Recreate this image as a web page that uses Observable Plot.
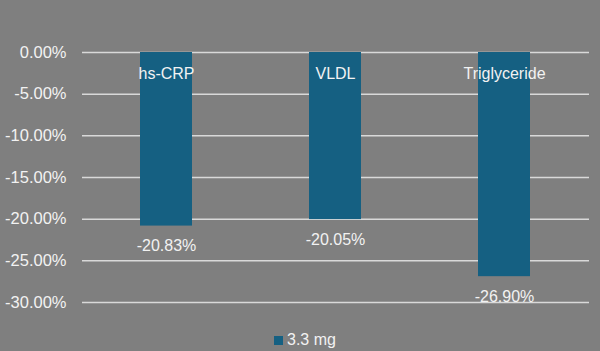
<!DOCTYPE html>
<html>
<head>
<meta charset="utf-8">
<script src="https://cdn.jsdelivr.net/npm/d3@7"></script>
<script src="https://cdn.jsdelivr.net/npm/@observablehq/plot@0.6"></script>
<style>
  html, body { margin: 0; padding: 0; background: #7f7f7f; width: 600px; height: 351px; overflow: hidden; font-family: "Liberation Sans", Arial, sans-serif; }
  #legend { position: absolute; left: 274px; top: 330px; height: 20px; display: flex; align-items: center; color: #f2f2f2; font-size: 16px; }
  #legend span.sw { display: inline-block; width: 9px; height: 9px; background: #156082; margin-right: 4px; }
</style>
</head>
<body>
<div id="chart"></div>
<div id="legend"><span class="sw"></span><span>3.3 mg</span></div>
<script>
const categories = ["hs-CRP", "VLDL", "Triglyceride"];
const values = [-20.83, -20.05, -26.90];
const yTicks = [0, -5, -10, -15, -20, -25, -30];
const seriesName = "3.3 mg";

const data = categories.map((c, i) => ({category: c, value: values[i]}));
const fmt = v => v.toFixed(2) + "%";

const chart = Plot.plot({
  width: 600,
  height: 320,
  marginTop: 52,
  marginBottom: 18,
  marginLeft: 82,
  marginRight: 11,
  style: {background: "transparent", fontFamily: "Liberation Sans, Arial, sans-serif", fontSize: "16px", color: "#f2f2f2"},
  x: {domain: categories, paddingInner: 0.69, paddingOuter: 0.345, axis: null},
  y: {domain: [-30, 0], ticks: yTicks, tickFormat: fmt, label: null},
  marks: [
    Plot.ruleY(yTicks, {stroke: "#d9d9d9", strokeWidth: 1.5}),
    Plot.barY(data, {x: "category", y: "value", fill: "#156082"}),
    Plot.axisY({ticks: yTicks, tickFormat: fmt, tickSize: 0, tickPadding: 16, fill: "#f2f2f2", fontSize: 16.5, label: null}),
    Plot.text(data, {x: "category", y: 0, text: "category", dy: 21, fill: "#f2f2f2", fontSize: 16}),
    Plot.text(data, {x: "category", y: "value", text: d => fmt(d.value), dy: 20, fill: "#f2f2f2", fontSize: 16})
  ]
});
document.getElementById("chart").appendChild(chart);
</script>
</body>
</html>
